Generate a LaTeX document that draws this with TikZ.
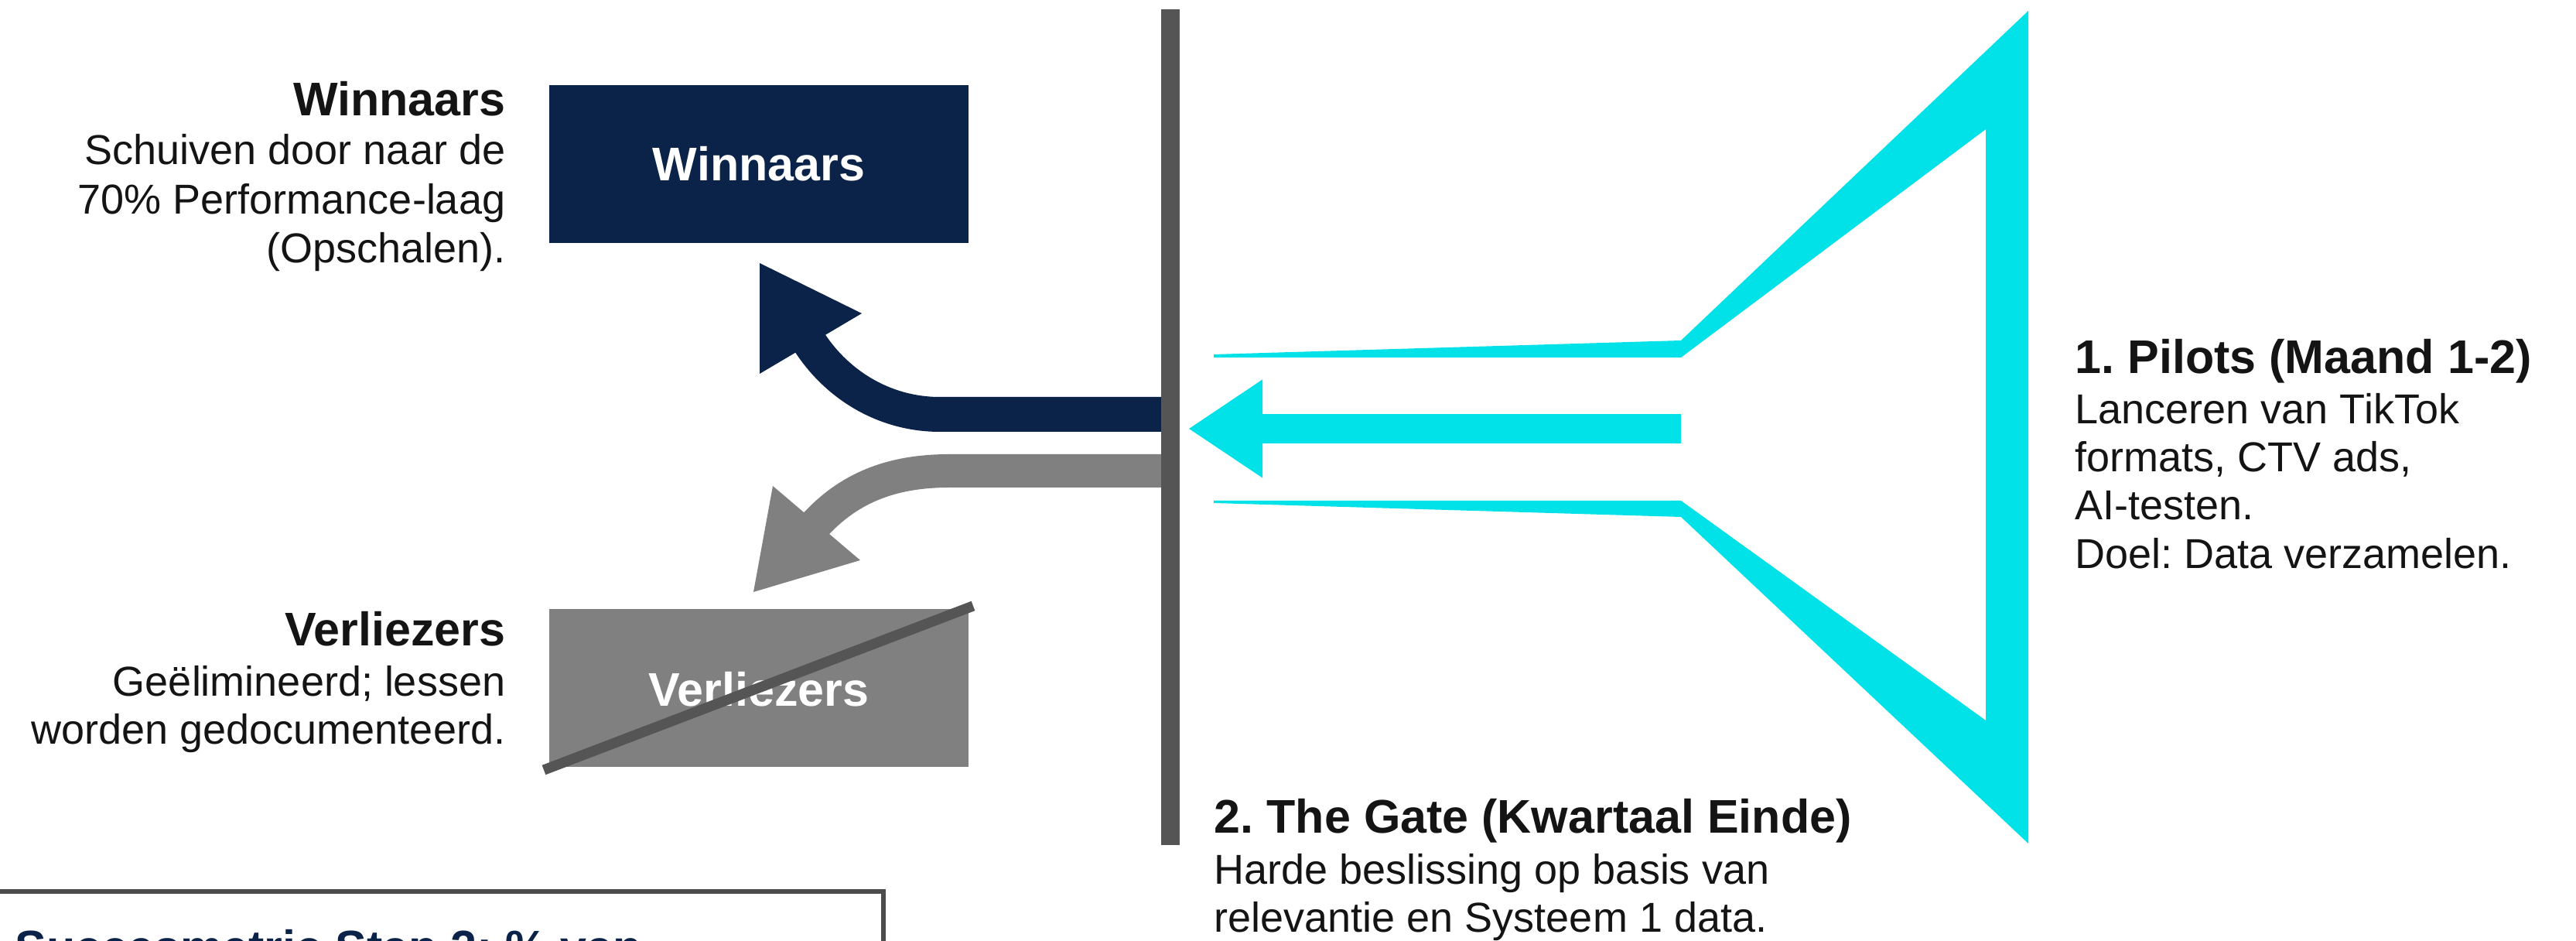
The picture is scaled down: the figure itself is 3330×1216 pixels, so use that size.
\documentclass[tikz,border=0pt]{standalone}
\usepackage{fontspec}
\setmainfont{Liberation Sans}
\usetikzlibrary{arrows.meta}
\definecolor{navy}{HTML}{0B2249}
\definecolor{cyanf}{HTML}{00E1E8}
\definecolor{gbox}{HTML}{808080}
\definecolor{barc}{HTML}{555555}
\definecolor{ink}{HTML}{141414}
\frenchspacing
\tikzset{
  ttl/.style={font=\fontsize{15.25}{18}\selectfont\bfseries, text=ink, inner sep=0pt},
  bdy/.style={font=\fontsize{13.5}{16}\selectfont, text=ink, inner sep=0pt},
  boxlbl/.style={font=\fontsize{15.25}{18}\selectfont\bfseries, text=white, inner sep=0pt},
  resbox/.style={minimum width=135.5pt, minimum height=51pt, inner sep=0pt},
}
\begin{document}
\frenchspacing
\begin{tikzpicture}[x=0.25pt,y=-0.25pt]
\useasboundingbox (0,0) rectangle (3330,1216);
\clip (0,0) rectangle (3330,1216);
\fill[white] (0,0) rectangle (3330,1216);

% result boxes
\node[resbox, fill=navy] (winbox) at (981,212) {};
\node[boxlbl] (winlbl) at (winbox.center) {Winnaars};
\node[resbox, fill=gbox] (verbox) at (981,889) {};
\node[boxlbl] (verlbl) at (981,891) {Verliezers};
\coordinate (s1) at (703,995);
\coordinate (s2) at (1258,783);
\draw[barc, line width=3.3pt] (s1) -- (s2);

% funnel
\fill[cyanf] (1569,458) -- (2173,440) -- (2622,14) -- (2622,1090) -- (2173,668)
  -- (1569,650) -- (1569,647) -- (2173,647) -- (2567,931) -- (2567,167)
  -- (2173,462) -- (1569,462) -- cycle;
\coordinate (mouth) at (2173,554);
\coordinate (gatein) at (1536,554);
\draw[cyanf, line width=9.5pt, -{Triangle[width=30pt,length=24pt]}] (mouth) -- (gatein);

% curved arrows
\coordinate (nstart) at (1505,535.5);
\coordinate (nbend) at (1215,535.5);
\coordinate (nbase) at (1045,440);
\draw[navy, line width=11.25pt] (nstart) -- (nbend) .. controls (1140,535.5) and (1079,494) .. (nbase);
\fill[navy] (982,340) -- (1114,405) -- (982,483) -- cycle;

\coordinate (gstart) at (1505,608.5);
\coordinate (gbend) at (1227,608.5);
\coordinate (gbase) at (1053,679);
\draw[gbox, line width=10.75pt] (gstart) -- (gbend) .. controls (1150,608.5) and (1096,632) .. (gbase);
\fill[gbox] (999,628) -- (1112,724) -- (974,765) -- cycle;

% gate bar
\node[fill=barc, minimum width=6pt, minimum height=270pt, inner sep=0pt] (gate) at (1513,552) {};

% left labels
\node[ttl, anchor=base east] (wt) at (654,150) {Winnaars};
\node[bdy, anchor=base east] (w1) at (654,213) {Schuiven door naar de};
\node[bdy, anchor=base east] (w2) at (654,277) {70\% Performance-laag};
\node[bdy, anchor=base east] (w3) at (654,340) {(Opschalen).};
\node[ttl, anchor=base east] (vt) at (654,835) {Verliezers};
\node[bdy, anchor=base east] (v1) at (654,900) {Geëlimineerd; lessen};
\node[bdy, anchor=base east] (v2) at (654,962) {worden gedocumenteerd.};

% right labels
\node[ttl, anchor=base west] (pt) at (2682,483) {1. Pilots (Maand 1-2)};
\node[bdy, anchor=base west] (p1) at (2682,548) {Lanceren van TikTok};
\node[bdy, anchor=base west] (p2) at (2682,610) {formats, CTV ads,};
\node[bdy, anchor=base west] (p3) at (2682,672) {AI-testen.};
\node[bdy, anchor=base west] (p4) at (2682,735) {Doel: Data verzamelen.};

% gate labels
\node[ttl, anchor=base west] (gt) at (1569,1077) {2. The Gate (Kwartaal Einde)};
\node[bdy, anchor=base west] (g1) at (1569,1143) {Harde beslissing op basis van};
\node[bdy, anchor=base west] (g2) at (1569,1205) {relevantie en Systeem 1 data.};

% metric box (cut off at the lower edge, as in the reference)
\draw[barc!90!black, line width=1.7pt] (-20,1152) rectangle (1142,1400);
\node[ttl, text=navy, anchor=base west] (metric) at (19,1246) {Succesmetric Stap 2: \% van};
\end{tikzpicture}
\end{document}
